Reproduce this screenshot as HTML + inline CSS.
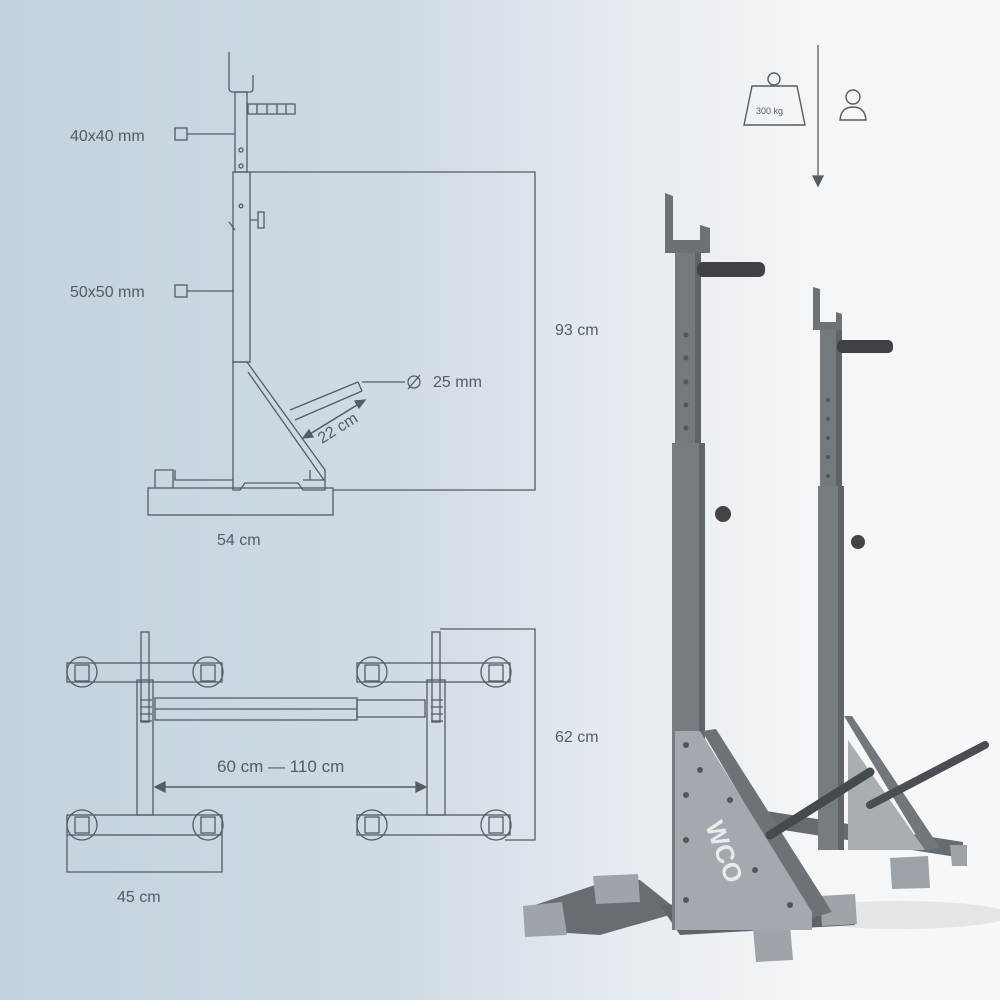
<!DOCTYPE html>
<html><head><style>
html,body{margin:0;padding:0}
body{width:1000px;height:1000px;overflow:hidden;background:linear-gradient(90deg,#c3d2de 0%,#cfdbe4 40%,#e4eaef 60%,#f3f5f7 80%,#f7f8f9 100%);font-family:"Liberation Sans",sans-serif}
</style></head><body>
<svg width="1000" height="1000" viewBox="0 0 1000 1000" xmlns="http://www.w3.org/2000/svg" style="position:absolute;left:0;top:0">
<g fill="none" stroke="#555c62" stroke-width="1.3">
<path d="M229,52 V88 Q229,92 233,92 H250 Q253,92 253,88 V75"/>
<rect x="235" y="92" width="12" height="80"/>
<rect x="248" y="104" width="47" height="10"/>
<path d="M257,104V114M267,104V114M277,104V114M286,104V114"/>
<rect x="233" y="172" width="17" height="190"/>
<circle cx="241" cy="150" r="2"/><circle cx="241" cy="166" r="2"/><circle cx="241" cy="206" r="1.8"/>
<path d="M250,220 h8 M258,212 v16 h6 v-16z"/><path d="M229,222 l6,8"/>
<path d="M233,362 H247 L325,470 V490 H303 L298,483 H245 L240,490 H233 Z"/>
<path d="M248,372 L324,480"/>
<path d="M175,470 v10 h58 M303,480 h22 M310,470 v10"/>
<rect x="148" y="488" width="185" height="27"/>
<path d="M155,470 h18 v18 M155,470 v18"/>
<path d="M290,410 L358,382 M295,420 L362,391 M358,382 L362,391"/>
<path d="M333,490 H535 V172 H250"/>
<path d="M362,382 H405"/>
<circle cx="414" cy="382" r="6"/><path d="M408,389 L420,375"/>
<path d="M305,437 L362,402" stroke-width="1.6"/>
<path d="M303,438 l10,-1 l-4,-7z M365,400 l-10,1 l4,7z" fill="#555c62"/>
<rect x="175" y="128" width="12" height="12"/><path d="M187,134 H235"/>
<rect x="175" y="285" width="12" height="12"/><path d="M187,291 H233"/>
<rect x="67" y="663" width="155" height="19"/>
<rect x="67" y="815" width="155" height="20"/>
<circle cx="82" cy="672" r="15"/><circle cx="208" cy="672" r="15"/>
<circle cx="82" cy="825" r="15"/><circle cx="208" cy="825" r="15"/>
<rect x="75" y="665" width="14" height="16"/><rect x="201" y="665" width="14" height="16"/>
<rect x="75" y="817" width="14" height="16"/><rect x="201" y="817" width="14" height="16"/>
<rect x="137" y="680" width="16" height="135"/>
<rect x="141" y="632" width="8" height="90"/>
<path d="M140,700h12M140,707h12M140,714h12M140,721h12"/>
<rect x="155" y="698" width="202" height="22"/>
<path d="M155,709 H357"/>
<rect x="357" y="700" width="68" height="17"/>
<path d="M67,835 V872 H222 V835"/>
<rect x="357" y="663" width="153" height="19"/>
<rect x="357" y="815" width="153" height="20"/>
<circle cx="372" cy="672" r="15"/><circle cx="496" cy="672" r="15"/>
<circle cx="372" cy="825" r="15"/><circle cx="496" cy="825" r="15"/>
<rect x="365" y="665" width="14" height="16"/><rect x="489" y="665" width="14" height="16"/>
<rect x="365" y="817" width="14" height="16"/><rect x="489" y="817" width="14" height="16"/>
<rect x="427" y="680" width="18" height="135"/>
<rect x="432" y="632" width="8" height="90"/>
<path d="M431,700h12M431,707h12M431,714h12M431,721h12"/>
<path d="M440,629 H535 V840 H505"/>
<path d="M158,787 H423" stroke-width="1.4"/>
<path d="M155,787 l10,-5 v10z M426,787 l-10,-5 v10z" fill="#555c62"/>
<path d="M818,45 V180"/><path d="M813,176 L818,186 L823,176z" fill="#555c62"/>
<path d="M752,86 H797 L805,125 H744 Z" stroke-width="1.4"/>
<circle cx="774" cy="79" r="6" stroke-width="1.4"/>
<circle cx="853" cy="97" r="7" stroke-width="1.4"/>
<path d="M840,120 Q841,107 853,107 Q865,107 866,120 Z" stroke-width="1.4"/>
</g>
<g fill="#555c62" font-size="16">
<text x="70" y="141">40x40 mm</text>
<text x="70" y="297">50x50 mm</text>
<text x="555" y="335">93 cm</text>
<text x="433" y="387">25 mm</text>
<text x="217" y="545">54 cm</text>
<text x="555" y="742">62 cm</text>
<text x="217" y="772" font-size="17">60 cm — 110 cm</text>
<text x="117" y="902">45 cm</text>
<text x="322" y="444" transform="rotate(-32 322 444)" font-size="16">22 cm</text>
<text x="756" y="114" font-size="9">300 kg</text>
</g>
<g>
<ellipse cx="900" cy="915" rx="110" ry="14" fill="#e3e6e8"/>
<!-- back rack -->
<polygon points="760,810 963,842 963,858 770,828" fill="#666b70"/>
<rect x="820" y="330" width="22" height="520" fill="#74797e"/>
<rect x="836" y="330" width="6" height="520" fill="#5f6469"/>
<rect x="818" y="486" width="26" height="364" fill="#777c81"/>
<rect x="838" y="486" width="6" height="364" fill="#5f6469"/>
<polygon points="813,287 820,289 820,322 836,322 836,312 842,314 842,330 813,330" fill="#6c7176"/>
<rect x="837" y="340" width="56" height="13" rx="5" fill="#3e4246"/>
<polygon points="844,716 852,716 940,848 925,850" fill="#72777c"/>
<polygon points="848,740 925,850 848,850" fill="#a9aeb3"/>
<path d="M870,805 L985,745" stroke="#4a4e52" stroke-width="8" stroke-linecap="round"/>
<polygon points="890,858 928,856 930,888 892,889" fill="#9ca2a8"/>
<polygon points="950,845 967,845 967,866 952,866" fill="#9ca2a8"/>
<circle cx="858" cy="542" r="7" fill="#444"/>
<g fill="#555"><circle cx="828" cy="400" r="2"/><circle cx="828" cy="419" r="2"/><circle cx="828" cy="438" r="2"/><circle cx="828" cy="457" r="2"/><circle cx="828" cy="476" r="2"/></g>
<!-- front rack -->
<polygon points="535,905 610,880 640,880 680,912 600,935 550,932" fill="#686d72"/>
<polygon points="660,905 840,898 855,925 680,935" fill="#5f6469"/>
<polygon points="523,906 562,902 567,935 525,937" fill="#9ea4aa"/>
<polygon points="593,876 638,874 640,902 596,904" fill="#9ea4aa"/>
<polygon points="753,928 790,925 793,960 756,962" fill="#9ea4aa"/>
<polygon points="820,896 855,894 857,924 822,926" fill="#9ea4aa"/>
<rect x="675" y="251" width="26" height="192" fill="#74797e"/>
<rect x="695" y="251" width="6" height="192" fill="#5f6469"/>
<rect x="672" y="443" width="33" height="487" fill="#777c81"/>
<rect x="699" y="443" width="6" height="487" fill="#5f6469"/>
<polygon points="665,193 673,196 673,240 700,240 700,225 710,228 710,253 665,253" fill="#6c7176"/>
<rect x="697" y="262" width="68" height="15" rx="6" fill="#3e4246"/>
<circle cx="723" cy="514" r="8" fill="#444"/>
<polygon points="702,731 716,729 832,912 812,918" fill="#6d7277"/>
<polygon points="675,731 700,731 812,912 812,930 675,930" fill="#a3a9ae"/>
<path d="M770,835 L870,772" stroke="#454a4e" stroke-width="9" stroke-linecap="round"/>
<text x="705" y="825" transform="rotate(70 705 825)" font-size="26" font-weight="bold" fill="#e8eaec">WCO</text>
<g fill="#555">
<circle cx="686" cy="335" r="2.5"/><circle cx="686" cy="358" r="2.5"/><circle cx="686" cy="382" r="2.5"/><circle cx="686" cy="405" r="2.5"/><circle cx="686" cy="428" r="2.5"/>
<circle cx="686" cy="745" r="3"/><circle cx="700" cy="770" r="3"/><circle cx="686" cy="795" r="3"/><circle cx="686" cy="840" r="3"/><circle cx="686" cy="900" r="3"/><circle cx="730" cy="800" r="3"/><circle cx="755" cy="870" r="3"/><circle cx="790" cy="905" r="3"/>
</g>
</g>
</svg>
</body></html>
